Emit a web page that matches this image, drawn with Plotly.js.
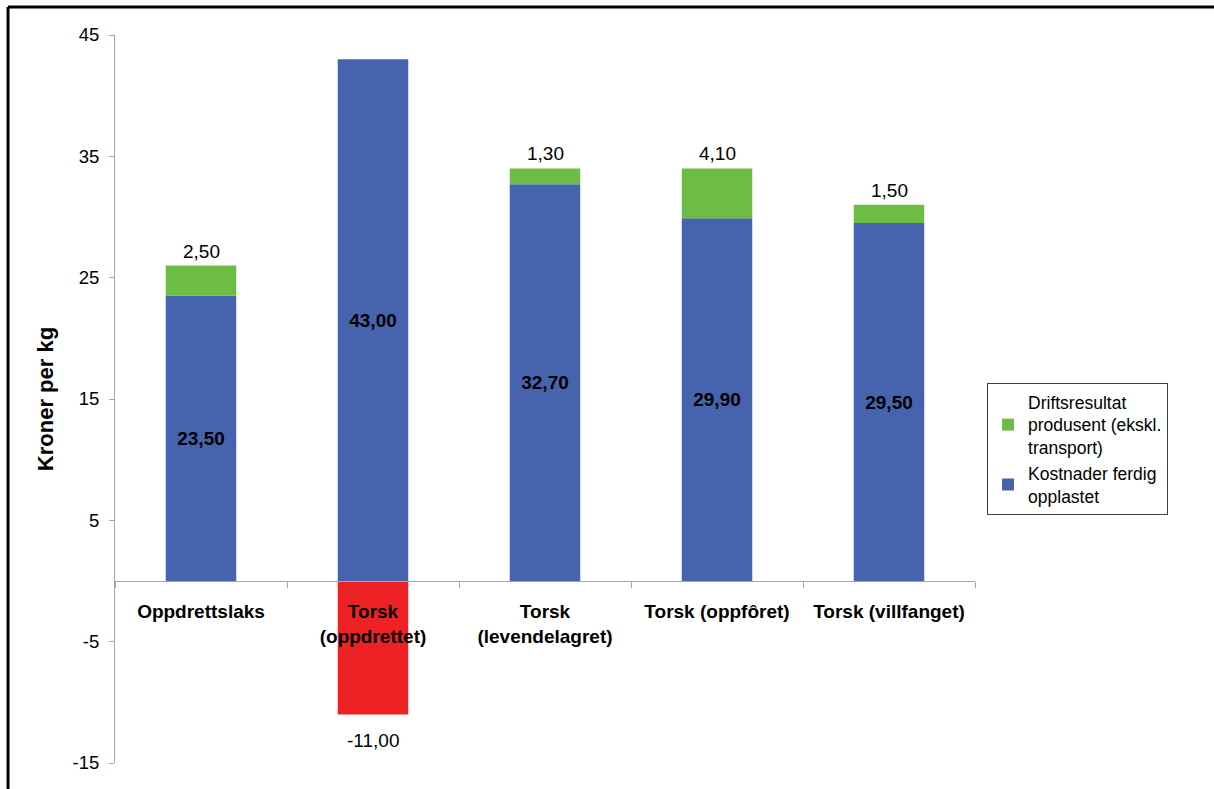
<!DOCTYPE html>
<html>
<head>
<meta charset="utf-8">
<script src="https://cdn.plot.ly/plotly-3.0.1.min.js"></script>
<style>
  html, body { margin: 0; padding: 0; background: #fff; }
  #chart { width: 1214px; height: 789px; }
</style>
</head>
<body>
<div id="chart"></div>
<script>
// ---- data ----
const categories = [
  "Oppdrettslaks",
  "Torsk<br>(oppdrettet)",
  "Torsk<br>(levendelagret)",
  "Torsk (oppfôret)",
  "Torsk (villfanget)"
];
const kostnader = [23.5, 43.0, 32.7, 29.9, 29.5];        // Kostnader ferdig opplastet
const driftsresultat = [2.5, -11.0, 1.3, 4.1, 1.5];       // Driftsresultat produsent (ekskl. transport)
const seriesNames = [
  "Kostnader ferdig<br>opplastet",
  "Driftsresultat<br>produsent (ekskl.<br>transport)"
];
const yTickVals = [-15, -5, 5, 15, 25, 35, 45];
const yTitle = "Kroner per kg";

// ---- styling ----
const BLUE = "#4564ad";
const GREEN = "#6dbd45";
const RED = "#ee2124";
const FONT = "Liberation Sans, Arial, sans-serif";
const fmt = v => v.toFixed(2).replace(".", ",");

const traceBlue = {
  type: "bar",
  name: seriesNames[0],
  x: categories,
  y: kostnader,
  width: 0.41,
  marker: { color: BLUE, line: { width: 0 } },
  text: kostnader.map(fmt),
  textposition: "inside",
  insidetextanchor: "middle",
  textangle: 0,
  insidetextfont: { family: FONT, size: 19, color: "#000", weight: "bold" },
  constraintext: "none",
  cliponaxis: false,
  hoverinfo: "x+y"
};

const traceGreen = {
  type: "bar",
  name: seriesNames[1],
  x: categories,
  y: driftsresultat,
  width: 0.41,
  marker: { color: driftsresultat.map(v => v < 0 ? RED : GREEN), line: { width: 0 } },
  textposition: "none",
  cliponaxis: false,
  hoverinfo: "x+y"
};

// value labels for the green/red series, placed at the end of each stack
const greenLabels = driftsresultat.map((v, i) => ({
  x: categories[i],
  y: v >= 0 ? kostnader[i] + v : v,
  xref: "x",
  yref: "y",
  text: fmt(v),
  showarrow: false,
  yanchor: v >= 0 ? "bottom" : "top",
  yshift: v >= 0 ? 2 : -14,
  font: { family: FONT, size: 19, color: "#000" }
}));

const layout = {
  width: 1214,
  height: 789,
  paper_bgcolor: "#fff",
  plot_bgcolor: "#fff",
  margin: { l: 115, r: 239, t: 35, b: 26, pad: 0 },
  barmode: "relative",
  showlegend: true,
  font: { family: FONT, color: "#000" },
  xaxis: {
    type: "category",
    anchor: "free",
    position: 0.25,
    showline: true,
    linecolor: "#a6a6a6",
    linewidth: 1,
    ticks: "outside",
    tickson: "boundaries",
    ticklen: 6,
    tickcolor: "#a6a6a6",
    ticklabelstandoff: 13,
    showgrid: false,
    zeroline: false,
    tickfont: { family: FONT, size: 19, color: "#000", weight: "bold" },
    automargin: false,
    fixedrange: true
  },
  yaxis: {
    range: [-15, 45],
    tickvals: yTickVals,
    ticktext: yTickVals.map(String),
    showline: true,
    linecolor: "#a6a6a6",
    linewidth: 1,
    ticks: "outside",
    ticklen: 5,
    tickcolor: "#a6a6a6",
    ticklabelstandoff: 6,
    showgrid: false,
    zeroline: false,
    tickfont: { family: FONT, size: 18.5, color: "#000" },
    title: { text: yTitle, font: { family: FONT, size: 22, color: "#000", weight: "bold" }, standoff: 12 },
    automargin: false,
    fixedrange: true
  },
  legend: {
    x: 1.014,
    xanchor: "left",
    y: 0.522,
    yanchor: "top",
    traceorder: "reversed",
    bordercolor: "#404040",
    borderwidth: 1,
    bgcolor: "#fff",
    font: { family: FONT, size: 17.5, color: "#000" },
    itemwidth: 30,
    tracegroupgap: 0
  },
  annotations: greenLabels,
  shapes: [
    { type: "line", xref: "paper", yref: "paper", x0: -0.1244, x1: -0.1244, y0: 1.0385, y1: -0.1, line: { color: "#000", width: 3 } },
    { type: "line", xref: "paper", yref: "paper", x0: -0.1244, x1: 1.4, y0: 1.0385, y1: 1.0385, line: { color: "#000", width: 3 } }
  ]
};

Plotly.newPlot("chart", [traceBlue, traceGreen], layout, { displayModeBar: false, staticPlot: true });
</script>
</body>
</html>
